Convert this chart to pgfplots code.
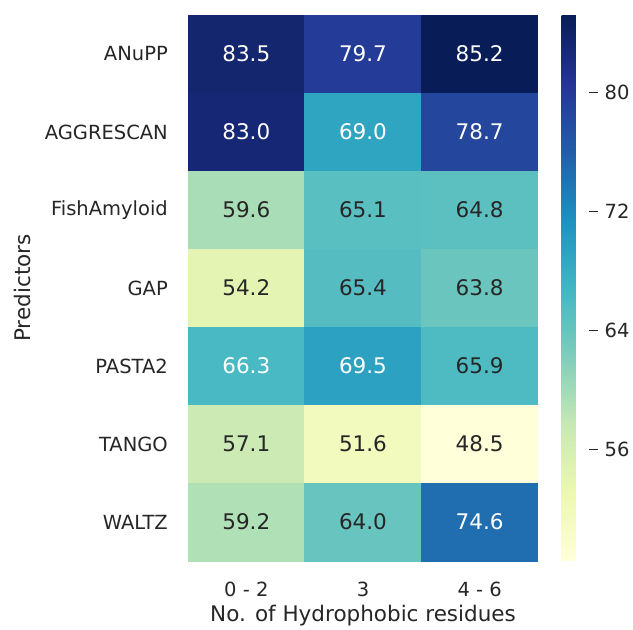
\documentclass[border=0pt]{standalone}
\usepackage{pgfplots}
\pgfplotsset{compat=1.18}
\usepackage{fontspec}
\setmainfont{DejaVu Sans}
\definecolor{tickgray}{HTML}{262626}
\pgfplotsset{/pgf/number format/assume math mode=true}

\pgfplotstableread{
x y z
0 0 83.5
1 0 79.7
2 0 85.2
0 1 83.0
1 1 69.0
2 1 78.7
0 2 59.6
1 2 65.1
2 2 64.8
0 3 54.2
1 3 65.4
2 3 63.8
0 4 66.3
1 4 69.5
2 4 65.9
0 5 57.1
1 5 51.6
2 5 48.5
0 6 59.2
1 6 64.0
2 6 74.6
}\heatdata

\pgfplotstableread{
x y t
0 0 83.5
1 0 79.7
2 0 85.2
0 1 83.0
1 1 69.0
2 1 78.7
0 4 66.3
1 4 69.5
2 6 74.6
}\whitelabels

\pgfplotstableread{
x y t
0 2 59.6
1 2 65.1
2 2 64.8
0 3 54.2
1 3 65.4
2 3 63.8
2 4 65.9
0 5 57.1
1 5 51.6
2 5 48.5
0 6 59.2
1 6 64.0
}\darklabels

\begin{document}
\begin{tikzpicture}
\path[use as bounding box] (0,0) rectangle (633pt,630pt);
\begin{axis}[
  at={(188pt,69pt)}, anchor=south west,
  scale only axis, width=350pt, height=546pt,
  xmin=-0.5, xmax=2.5, ymin=-0.5, ymax=6.5, y dir=reverse,
  xtick={0,1,2}, xticklabels={0 - 2,3,4 - 6},
  ytick={0,1,2,3,4,5,6},
  yticklabels={ANuPP,AGGRESCAN,FishAmyloid,GAP,PASTA2,TANGO,WALTZ},
  major tick length=0pt,
  axis line style={draw=none},
  ticklabel style={font=\fontsize{19.5}{23}\selectfont, text=tickgray},
  xticklabel style={inner sep=0pt, anchor=north, yshift=-21pt},
  yticklabel style={inner sep=0pt, anchor=east, xshift=-20pt},
  xlabel={No. of Hydrophobic residues},
  ylabel={Predictors},
  label style={font=\fontsize{21.5}{25}\selectfont, text=tickgray},
  xlabel style={at={(axis description cs:0.5,0)}, anchor=north, inner sep=0pt, yshift=-44pt},
  ylabel style={at={(axis description cs:-0.449,0.5)}, anchor=south, rotate=0, inner sep=0pt},
  colormap={ylgnbu}{rgb255=(255,255,217) rgb255=(237,248,177) rgb255=(199,233,180) rgb255=(127,205,187) rgb255=(65,182,196) rgb255=(29,145,192) rgb255=(34,94,168) rgb255=(37,52,148) rgb255=(8,29,88)},
  point meta min=48.5, point meta max=85.2,
  colorbar,
  colorbar style={
    at={(parent axis.north east)}, anchor=north west, xshift=15pt,
    scale only axis,
    width=27pt,
    ytick={56,64,72,80},
    axis line style={draw=none},
    axis on top,
    ytick pos=right, yticklabel pos=right,
    tick align=outside,
    major tick length=9pt,
    ytick style={draw=tickgray, line width=1pt},
    font=\fontsize{19.5}{24}\selectfont,
    tick label style={font=\fontsize{19.5}{24}\selectfont},
    yticklabel style={font=\fontsize{19.5}{24}\selectfont, text=tickgray, inner sep=0pt, anchor=west, xshift=7pt},
  },
]
\addplot[matrix plot*, mesh/cols=3, point meta=explicit] table[meta=z] {\heatdata};
\addplot[draw=none, mark=none, nodes near coords, point meta=explicit symbolic,
  nodes near coords style={anchor=center, font=\fontsize{21.5}{25}\selectfont, text=white}]
  table[meta=t] {\whitelabels};
\addplot[draw=none, mark=none, nodes near coords, point meta=explicit symbolic,
  nodes near coords style={anchor=center, font=\fontsize{21.5}{25}\selectfont, text=tickgray}]
  table[meta=t] {\darklabels};
\end{axis}
\end{tikzpicture}
\end{document}
